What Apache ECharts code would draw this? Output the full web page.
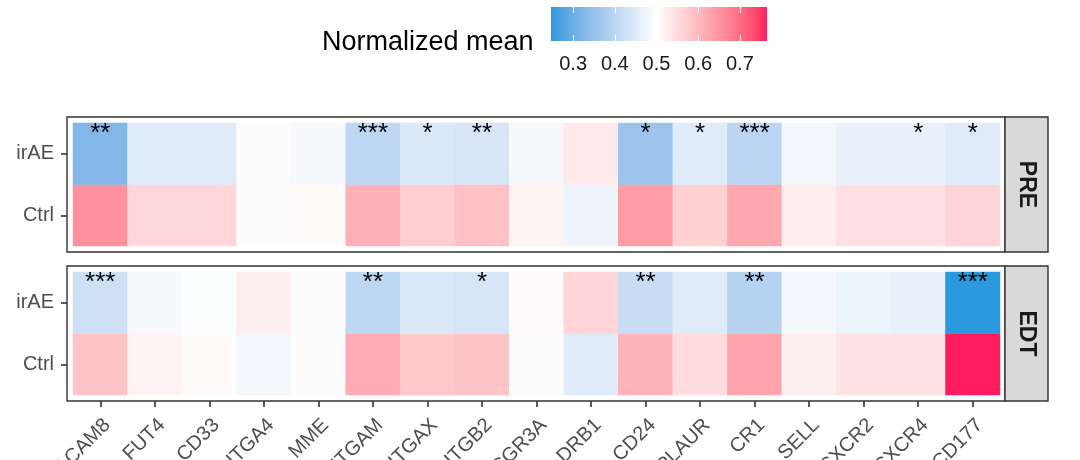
<!DOCTYPE html>
<html><head><meta charset="utf-8">
<script src="https://cdn.jsdelivr.net/npm/echarts@6/dist/echarts.min.js"></script>
<style>html,body{margin:0;padding:0;background:#fff}#c{width:1080px;height:460px}</style>
</head><body><div id="c"></div>
<script>
const genes = ['CEACAM8','FUT4','CD33','ITGA4','MME','ITGAM','ITGAX','ITGB2','FCGR3A','HLA-DRB1','CD24','PLAUR','CR1','SELL','CXCR2','CXCR4','CD177'];
const groups = ['Ctrl','irAE'];
const preIrAE = [0.325,0.453,0.453,0.5,0.487,0.405,0.446,0.44,0.487,0.531,0.358,0.453,0.40,0.48,0.466,0.466,0.453];
const preCtrl = [0.654,0.557,0.557,0.5,0.505,0.612,0.573,0.59,0.517,0.473,0.64,0.567,0.624,0.528,0.545,0.545,0.562];
const edtIrAE = [0.426,0.487,0.496,0.522,0.5,0.405,0.446,0.44,0.504,0.562,0.419,0.453,0.392,0.484,0.47,0.466,0.247];
const edtCtrl = [0.585,0.517,0.505,0.48,0.5,0.618,0.579,0.585,0.5,0.453,0.607,0.55,0.63,0.522,0.54,0.54,0.765];
const preSig = ['**','','','','','***','*','**','','','*','*','***','','','*','*'];
const edtSig = ['***','','','','','**','','*','','','**','','**','','','','***'];
const legendTicks = [0.3,0.4,0.5,0.6,0.7];
const scaleMin = 0.247, scaleMax = 0.765, scaleMid = 0.5;
const lowColor = '#0094DB', midColor = '#FFFFFF', highColor = '#FF1C5E';

// Lab-space gradient (like ggplot's gradient2)
function hex2rgb(h){h=h.replace('#','');return [0,2,4].map(i=>parseInt(h.substr(i,2),16));}
function s2l(c){c/=255;return c<=0.04045?c/12.92:Math.pow((c+0.055)/1.055,2.4);}
function l2s(c){c=c<=0.0031308?12.92*c:1.055*Math.pow(c,1/2.4)-0.055;return Math.round(Math.max(0,Math.min(1,c))*255);}
function toLab(hex){const [r,g,b]=hex2rgb(hex).map(s2l);
  const X=(0.4124*r+0.3576*g+0.1805*b)/0.95047, Y=0.2126*r+0.7152*g+0.0722*b, Z=(0.0193*r+0.1192*g+0.9505*b)/1.08883;
  const f=t=>t>0.008856?Math.cbrt(t):7.787*t+16/116; const fx=f(X),fy=f(Y),fz=f(Z);
  return [116*fy-16,500*(fx-fy),200*(fy-fz)];}
function fromLab([L,a,bb]){const fy=(L+16)/116,fx=a/500+fy,fz=fy-bb/200;
  const fi=t=>t*t*t>0.008856?t*t*t:(t-16/116)/7.787;
  const X=fi(fx)*0.95047,Y=fi(fy),Z=fi(fz)*1.08883;
  const r=3.2406*X-1.5372*Y-0.4986*Z,g=-0.9689*X+1.8758*Y+0.0415*Z,b=0.0557*X-0.2040*Y+1.0570*Z;
  return 'rgb('+[r,g,b].map(l2s).join(',')+')';}
const labLow=toLab(lowColor), labMid=toLab(midColor), labHigh=toLab(highColor);
const maxDist=Math.max(scaleMid-scaleMin, scaleMax-scaleMid);
function colorAt(v){let t=(v-scaleMid)/maxDist; t=Math.max(-1,Math.min(1,t));
  const end=t<0?labLow:labHigh, a=Math.abs(t);
  return fromLab(labMid.map((m,i)=>m+(end[i]-m)*a));}
const NSTOP=53;
const stops=[]; for(let k=0;k<NSTOP;k++){stops.push(colorAt(scaleMin+(scaleMax-scaleMin)*k/(NSTOP-1)));}

function build(ctrl, ir) {
  const d = [];
  genes.forEach((g,i)=>{ d.push([i,0,ctrl[i]]); d.push([i,1,ir[i]]); });
  return d;
}
const chart = echarts.init(document.getElementById('c'));
const labelGray = '#4d4d4d';
const font = 'Liberation Sans, Arial, sans-serif';
function heat(idx, data, sig) {
  return {
    type:'heatmap', xAxisIndex:idx, yAxisIndex:idx, data:data,
    label:{show:true, position:'insideTop', distance:-2, fontSize:26, color:'#000', fontFamily:font,
      formatter:p=> p.data[1]===1 ? sig[p.data[0]] : ''},
    emphasis:{disabled:true}
  };
}
const catX = (idx, showLabels) => ({
  type:'category', gridIndex:idx, data:genes,
  axisLine:{show:false}, splitLine:{show:false},
  axisTick:{show:showLabels, length:6, alignWithLabel:true, lineStyle:{color:'#333', width:1.6}},
  axisLabel:{show:showLabels, rotate:45, fontSize:20, color:labelGray, margin:14, align:'right', verticalAlign:'top', fontFamily:font, interval:0},
  offset:6
});
const catY = idx => ({
  type:'category', gridIndex:idx, data:groups,
  axisLine:{show:false}, splitLine:{show:false},
  axisTick:{show:true, length:6, alignWithLabel:true, lineStyle:{color:'#333', width:1.6}},
  axisLabel:{fontSize:20, color:labelGray, margin:13, fontFamily:font},
  offset:6
});
function panel(y, label) {
  return [
    {type:'rect', shape:{x:67,y:y,width:938,height:135}, style:{fill:null, stroke:'#333', lineWidth:1.4}, z:100},
    {type:'rect', shape:{x:1005,y:y,width:43,height:135}, style:{fill:'#d9d9d9', stroke:'#333', lineWidth:1.4}, z:100},
    {type:'text', x:1026.5, y:y+67.5, rotation:-Math.PI/2, style:{text:label, fontSize:23, fontWeight:'bold', fill:'#1a1a1a', align:'center', verticalAlign:'middle', fontFamily:font}, z:101}
  ];
}
chart.setOption({
  animation:false,
  title:{text:'Normalized mean', left:317, top:24, textStyle:{fontSize:27, fontWeight:'normal', color:'#000', fontFamily:font}},
  grid:[
    {left:73, top:123, width:927, height:123, outerBoundsMode:'none', containLabel:false},
    {left:73, top:272, width:927, height:123, outerBoundsMode:'none', containLabel:false},
    {left:551, top:7, width:216, height:34, outerBoundsMode:'none', containLabel:false}
  ],
  xAxis:[catX(0,false), catX(1,true),
    {type:'value', gridIndex:2, min:scaleMin, max:scaleMax, position:'bottom',
      axisLine:{show:false}, splitLine:{show:false},
      axisTick:{inside:true, length:6, customValues:legendTicks, lineStyle:{color:'#fff', width:1}},
      axisLabel:{customValues:legendTicks, fontSize:20, color:'#1a1a1a', margin:13, fontFamily:font}},
    {type:'value', gridIndex:2, min:scaleMin, max:scaleMax, position:'top',
      axisLine:{show:false}, splitLine:{show:false},
      axisTick:{inside:true, length:6, customValues:legendTicks, lineStyle:{color:'#fff', width:1}},
      axisLabel:{show:false}}
  ],
  yAxis:[catY(0), catY(1), {type:'value', gridIndex:2, show:false, min:0, max:1}],
  visualMap:{show:false, type:'continuous', min:scaleMin, max:scaleMax, dimension:2, seriesIndex:[0,1], inRange:{color:stops}},
  series:[heat(0, build(preCtrl, preIrAE), preSig), heat(1, build(edtCtrl, edtIrAE), edtSig)],
  graphic:{elements:[
    {type:'rect', shape:{x:551,y:7,width:216,height:34}, z:-10,
      style:{fill:new echarts.graphic.LinearGradient(0,0,1,0, stops.map((c,k)=>({offset:k/(NSTOP-1), color:c})))}},
    ...panel(117,'PRE'), ...panel(266,'EDT')
  ]}
});
</script></body></html>
